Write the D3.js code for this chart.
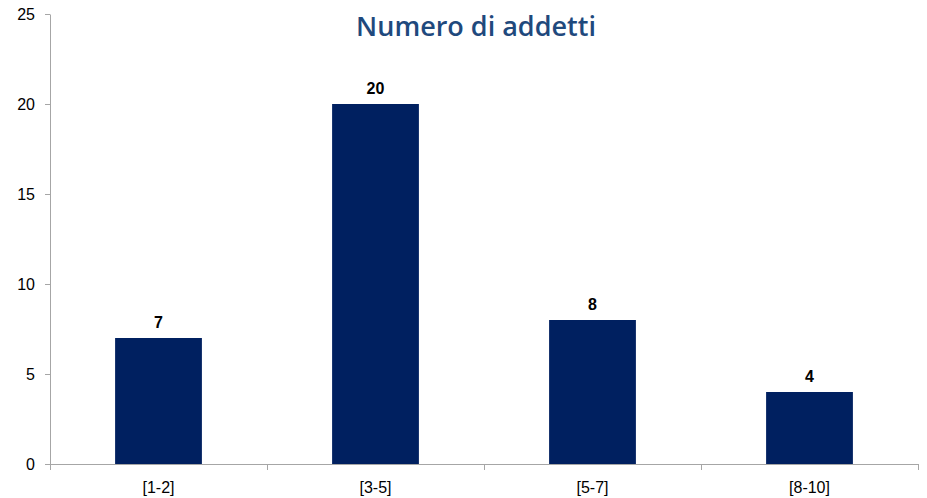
<!DOCTYPE html>
<html><head><meta charset="utf-8">
<script src="https://cdn.jsdelivr.net/npm/d3@7"></script>
<style>body{margin:0;background:#fff}svg{display:block}</style>
</head><body>
<svg id="c" width="927" height="498"></svg>
<script>
const categories = ["[1-2]", "[3-5]", "[5-7]", "[8-10]"];
const values = [7, 20, 8, 4];
const yTicks = [0, 5, 10, 15, 20, 25];
const title = "Numero di addetti";

(function () {
const svg = d3.select("#c");
const mLeft = 50, mRight = 918, mTop = 14, mBottom = 464;
const x = d3.scaleBand().domain(categories).range([mLeft, mRight]).paddingInner(0.6).paddingOuter(0.3);
const y = d3.scaleLinear().domain([0, 25]).range([mBottom, mTop]);
const axisColor = "#a6a6a6";

// Y axis
const ya = svg.append("g").attr("transform", `translate(${mLeft},0)`)
  .call(d3.axisLeft(y).tickValues(yTicks).tickSize(5).tickPadding(10).tickSizeOuter(0));
ya.select(".domain").attr("stroke", axisColor);
ya.selectAll(".tick line").attr("stroke", axisColor);
ya.selectAll(".tick text").attr("font-family", "Liberation Sans, Arial, sans-serif").attr("font-size", 16).attr("fill", "#000");

// bars
svg.append("g").selectAll("rect").data(values).join("rect")
  .attr("x", (d, i) => x(categories[i]))
  .attr("y", d => y(d))
  .attr("width", x.bandwidth())
  .attr("height", d => y(0) - y(d))
  .attr("fill", "#002060");

// X axis
const step = x.step();
const xa = svg.append("g").attr("transform", `translate(0,${mBottom})`);
xa.append("line").attr("x1", mLeft).attr("x2", mRight).attr("y1", 0.5).attr("y2", 0.5).attr("stroke", axisColor);
const bounds = d3.range(categories.length + 1).map(i => mLeft + i * step);
xa.selectAll("line.tk").data(bounds).join("line").attr("class", "tk")
  .attr("x1", d => Math.round(d) + 0.5).attr("x2", d => Math.round(d) + 0.5)
  .attr("y1", 0).attr("y2", 6).attr("stroke", axisColor);
xa.selectAll("text").data(categories).join("text")
  .attr("x", d => x(d) + x.bandwidth() / 2)
  .attr("y", 29)
  .attr("text-anchor", "middle")
  .attr("font-family", "Liberation Sans, Arial, sans-serif").attr("font-size", 16)
  .text(d => d);

// data labels
svg.append("g").selectAll("text").data(values).join("text")
  .attr("x", (d, i) => x(categories[i]) + x.bandwidth() / 2)
  .attr("y", d => y(d) - 10)
  .attr("text-anchor", "middle")
  .attr("font-family", "Liberation Sans, Arial, sans-serif").attr("font-size", 16).attr("font-weight", "bold")
  .text(d => d);

// title
svg.append("text").attr("x", 476).attr("y", 36).attr("text-anchor", "middle")
  .attr("font-family", "Open Sans, sans-serif").attr("font-weight", 600).attr("font-size", 27)
  .attr("fill", "#1f497d").text(title);
})();
</script>
</body></html>
